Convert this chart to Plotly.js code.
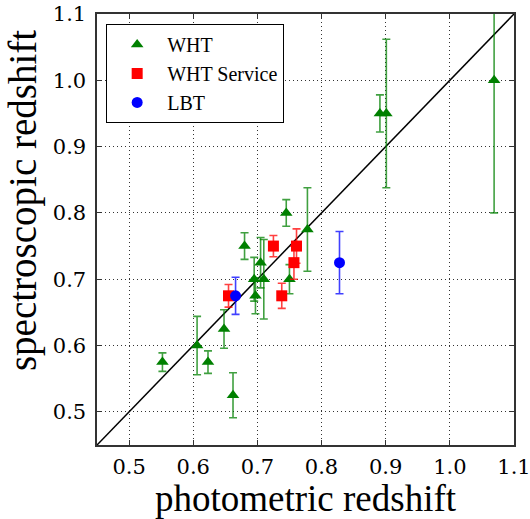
<!DOCTYPE html>
<html>
<head>
<meta charset="utf-8">
<script src="https://cdn.plot.ly/plotly-3.0.1.min.js"></script>
<style>html,body{margin:0;padding:0;background:#fff;}#chart{width:530px;height:519px;}</style>
</head>
<body>
<div id="chart"></div>
<script>
// WHT
const whtPhot = [0.552, 0.606, 0.623, 0.662, 0.648, 0.680, 0.695, 0.705, 0.710, 0.697, 0.745, 0.750, 0.778, 0.891, 0.901, 1.069];
const whtSpec = [0.575, 0.600, 0.575, 0.525, 0.625, 0.750, 0.700, 0.725, 0.700, 0.675, 0.800, 0.700, 0.775, 0.950, 0.950, 1.000];
const whtErr  = [0.014, 0.044, 0.017, 0.034, 0.029, 0.020, 0.033, 0.038, 0.060, 0.027, 0.020, 0.022, 0.063, 0.028, 0.112, 0.200];
// WHT Service
const svcPhot = [0.725, 0.761, 0.757, 0.738, 0.655];
const svcSpec = [0.750, 0.750, 0.725, 0.675, 0.675];
const svcErr  = [0.016, 0.026, 0.025, 0.019, 0.017];
// LBT
const lbtPhot = [0.666, 0.828];
const lbtSpec = [0.675, 0.725];
const lbtErr  = [0.028, 0.047];

const diag = [0.45, 1.1];
const tickVals = [0.5, 0.6, 0.7, 0.8, 0.9, 1.0, 1.1];
const tickText = ['0.5', '0.6', '0.7', '0.8', '0.9', '1.0', '1.1'];

const serif = "'Liberation Serif', 'Times New Roman', serif";
const tickSerif = "'DejaVu Serif', serif";

function series(x, y, e, name, color, errColor, symbol) {
  return {
    x: x, y: y, name: name, type: 'scatter', mode: 'markers',
    marker: {color: color, symbol: symbol, size: 11, line: {width: 0}},
    error_y: {type: 'data', array: e, visible: true, color: errColor, thickness: 1.6, width: 4}
  };
}

const traces = [
  {x: diag, y: diag, mode: 'lines', line: {color: 'black', width: 1.5}, showlegend: false, hoverinfo: 'skip'},
  series(whtPhot, whtSpec, whtErr, 'WHT', '#008000', 'rgba(0,128,0,0.75)', 'triangle-up'),
  series(svcPhot, svcSpec, svcErr, 'WHT Service', '#ff0000', 'rgba(255,0,0,0.75)', 'square'),
  series(lbtPhot, lbtSpec, lbtErr, 'LBT', '#0000ff', 'rgba(0,0,255,0.75)', 'circle')
];

function axis(extra) {
  return Object.assign({
    range: [0.45, 1.1], tickmode: 'array', tickvals: tickVals, ticktext: tickText,
    showgrid: true, gridcolor: '#333', griddash: '1px,3px', gridwidth: 1,
    zeroline: false, showline: true, linecolor: '#333', linewidth: 1.6, mirror: 'ticks',
    ticks: 'inside', ticklen: 5, tickcolor: '#333', tickwidth: 1,
    ticklabeloverflow: 'allow',
    tickfont: {family: tickSerif, size: 21, color: 'black'}
  }, extra);
}

const layout = {
  width: 530, height: 519,
  font: {family: serif, color: 'black'},
  margin: {l: 97, r: 16, t: 14, b: 74},
  paper_bgcolor: 'white', plot_bgcolor: 'white',
  showlegend: true,
  legend: {
    x: 0.022, y: 0.977, xanchor: 'left', yanchor: 'top',
    bgcolor: 'white', bordercolor: 'black', borderwidth: 1,
    font: {family: serif, size: 20, color: 'black'},
    itemwidth: 50
  },
  xaxis: axis({
    ticklabelstandoff: 2,
    title: {text: 'photometric redshift', font: {family: serif, size: 37, color: 'black'}, standoff: 6}
  }),
  yaxis: axis({
    ticklabelstandoff: 5
  }),
  annotations: [{
    text: 'spectroscopic redshift', textangle: -90, showarrow: false,
    xref: 'paper', yref: 'paper', x: 0, y: 0.566, xanchor: 'center', yanchor: 'middle',
    xshift: -74, font: {family: serif, size: 39, color: 'black'}
  }]
};

Plotly.newPlot('chart', traces, layout, {displayModeBar: false, staticPlot: true});
</script>
</body>
</html>
